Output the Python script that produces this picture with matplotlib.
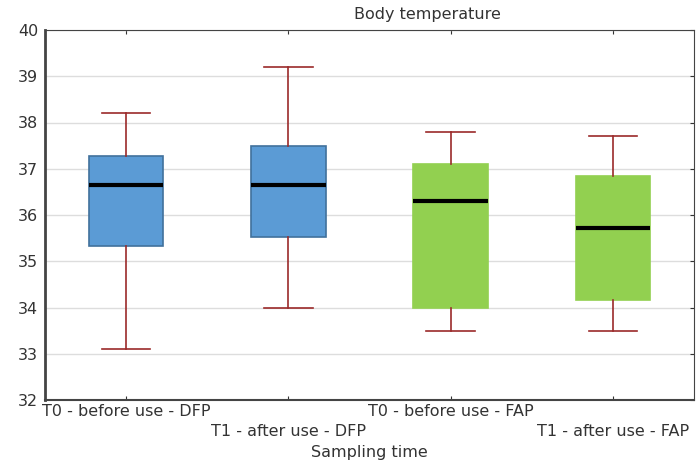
import numpy as np
import matplotlib
matplotlib.use("Agg")
import matplotlib.pyplot as plt

plt.rcParams['font.family'] = ['DejaVu Sans']

labels = ["T0 - before use - DFP", "T1 - after use - DFP",
          "T0 - before use - FAP", "T1 - after use - FAP"]
whislo = [33.1, 34.0, 33.5, 33.5]
q1 = [35.33, 35.52, 34.0, 34.17]
med = [36.65, 36.65, 36.3, 35.72]
q3 = [37.27, 37.5, 37.1, 36.85]
whishi = [38.2, 39.2, 37.8, 37.7]
face_colors = ["#5b9bd5", "#5b9bd5", "#92d050", "#92d050"]
edge_colors = ["#41719c", "#41719c", "#92d050", "#92d050"]

fig = plt.figure(figsize=(6.96, 4.63), dpi=100)
ax = fig.add_axes([45/696, 1-400/463, 649/696, 370/463])

stats = []
for i in range(len(labels)):
    stats.append(dict(whislo=whislo[i], q1=q1[i], med=med[i], q3=q3[i],
                      whishi=whishi[i], fliers=[], label=labels[i]))

pos = np.arange(len(labels)) + 0.5
bp = ax.bxp(stats, positions=pos, widths=0.46, patch_artist=True,
            showfliers=False,
            whiskerprops=dict(color="#9b2a2a", linewidth=1.2),
            capprops=dict(color="#9b2a2a", linewidth=1.2),
            medianprops=dict(color="black", linewidth=3))
for b, fc, ec in zip(bp['boxes'], face_colors, edge_colors):
    b.set_facecolor(fc)
    b.set_edgecolor(ec)
    b.set_linewidth(1.2)
for c in bp['caps']:
    xd = c.get_xdata()
    m = (xd[0] + xd[1]) / 2
    c.set_xdata([m - 0.15, m + 0.15])

ax.set_xlim(0, 4)
ax.set_ylim(32, 40)
ax.set_yticks(np.arange(32, 41, 1))
ax.yaxis.grid(True, color="#dddddd", linewidth=1)
ax.set_axisbelow(True)
ax.set_xticks(pos)
ax.set_xticklabels([])
ax.tick_params(axis='both', direction='in', length=3, labelsize=11.5,
               colors="#333333", top=True, right=True)
ax.tick_params(axis='y', left=False, pad=5)
for s in ax.spines.values():
    s.set_color("#444444")
ax.spines['left'].set_linewidth(2)
ax.spines['bottom'].set_linewidth(1.5)

for i, lab in enumerate(labels):
    y = -0.03 if i % 2 == 0 else -0.085
    ax.text(pos[i], y, lab, transform=ax.get_xaxis_transform(),
            ha='center', va='center', fontsize=11.5, color="#333333")

fig.text(427/696, 1-15/463, "Body temperature", ha='center', va='center',
         fontsize=11.5, color="#333333")
fig.text(369/696, 1-452/463, "Sampling time", ha='center', va='center',
         fontsize=11.5, color="#333333")

fig.savefig("out.png", dpi=100)
